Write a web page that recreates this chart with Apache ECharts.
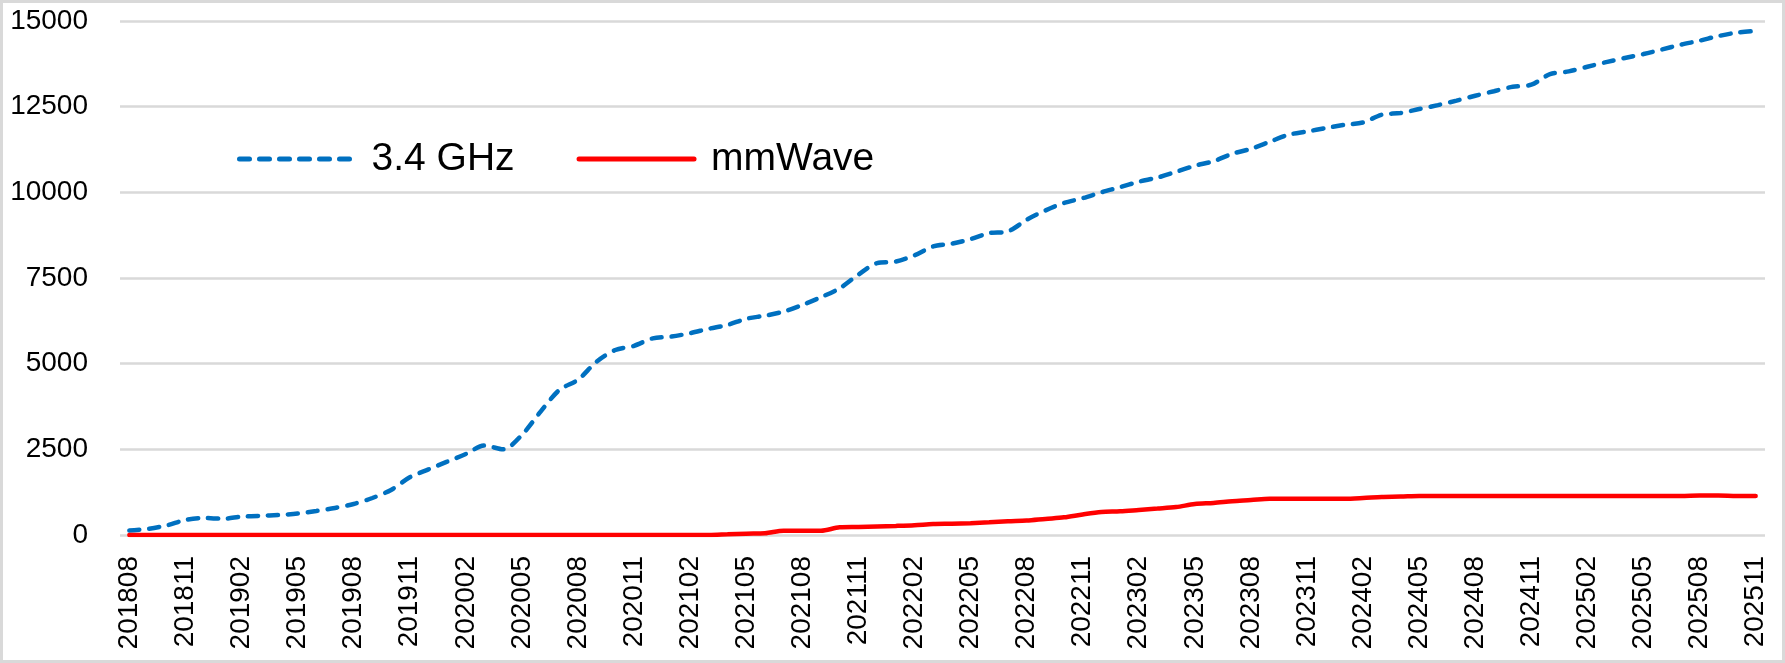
<!DOCTYPE html>
<html>
<head>
<meta charset="utf-8">
<script src="https://cdn.jsdelivr.net/npm/echarts@6/dist/echarts.min.js"></script>
<style>
  html, body { margin: 0; padding: 0; background: #fff; }
  #chart { width: 1785px; height: 663px; }
</style>
</head>
<body>
<div id="chart"></div>
<script>
const months = [
  "201808", "201809", "201810", "201811", "201812",
  "201901", "201902", "201903", "201904", "201905", "201906", "201907", "201908", "201909", "201910", "201911", "201912",
  "202001", "202002", "202003", "202004", "202005", "202006", "202007", "202008", "202009", "202010", "202011", "202012",
  "202101", "202102", "202103", "202104", "202105", "202106", "202107", "202108", "202109", "202110", "202111", "202112",
  "202201", "202202", "202203", "202204", "202205", "202206", "202207", "202208", "202209", "202210", "202211", "202212",
  "202301", "202302", "202303", "202304", "202305", "202306", "202307", "202308", "202309", "202310", "202311", "202312",
  "202401", "202402", "202403", "202404", "202405", "202406", "202407", "202408", "202409", "202410", "202411", "202412",
  "202501", "202502", "202503", "202504", "202505", "202506", "202507", "202508", "202509", "202510", "202511"
];

// 3.4 GHz
const band34 = [
  130, 180, 280, 440, 495, 475, 535, 560, 585, 625, 700, 790, 905, 1080, 1315, 1685, 1915, 2140, 2365, 2610,
  2500, 2920, 3600, 4230, 4530, 5060, 5400, 5520, 5740, 5790, 5890, 6020, 6130, 6310, 6400, 6520, 6715, 6940, 7200, 7600,
  7935, 7980, 8160, 8420, 8500, 8635, 8810, 8860, 9200, 9470, 9690, 9830, 10000, 10150, 10310, 10430, 10600, 10775, 10910, 11125,
  11270, 11475, 11680, 11775, 11875, 11970, 12040, 12265, 12315, 12430, 12545, 12675, 12820, 12950, 13080, 13140, 13450, 13530, 13665, 13800,
  13920, 14035, 14170, 14310, 14425, 14560, 14660, 14710
];

// mmWave
const mmWave = [
  0, 0, 0, 0, 0, 0, 0, 0, 0, 0, 0, 0, 0, 0, 0, 0, 0, 0, 0, 0,
  0, 0, 0, 0, 0, 0, 0, 0, 0, 0, 0, 0, 20, 40, 50, 125, 125, 125, 225, 235,
  250, 265, 285, 320, 330, 345, 370, 400, 420, 470, 515, 600, 670, 690, 730, 770, 815, 905, 935, 985,
  1020, 1060, 1060, 1060, 1060, 1060, 1080, 1110, 1120, 1140, 1140, 1140, 1140, 1140, 1140, 1140, 1140, 1140, 1140, 1140,
  1140, 1140, 1140, 1140, 1150, 1150, 1140, 1140
];

const seriesNames = ["3.4 GHz", "mmWave"];
const yTicks = { min: 0, max: 15000, step: 2500 };

const font = "'Liberation Sans', Arial, sans-serif";
const chart = echarts.init(document.getElementById("chart"));

chart.setOption({
  animation: false,
  backgroundColor: "#fff",
  graphic: [
    {
      type: "rect",
      shape: { x: 1.5, y: 1.5, width: 1782, height: 660 },
      style: { fill: "none", stroke: "#d9d9d9", lineWidth: 3 },
      z: 100,
    },
  ],
  grid: { left: 120, right: 20, top: 21, bottom: 128 },
  legend: {
    data: seriesNames,
    left: 232,
    top: 134,
    itemWidth: 115,
    itemHeight: 14,
    itemGap: 62,
    itemStyle: { opacity: 0 },
    lineStyle: { width: 5, cap: "round" },
    textStyle: {
      fontFamily: font,
      fontSize: 39,
      color: "#000",
      lineHeight: 40,
      padding: [0, 0, 0, 12],
    },
  },
  xAxis: {
    type: "category",
    data: months,
    boundaryGap: true,
    axisLine: { show: false },
    axisTick: { show: false },
    axisLabel: {
      interval: 2,
      rotate: 90,
      margin: 21,
      fontFamily: font,
      fontSize: 28,
      color: "#000",
    },
  },
  yAxis: {
    type: "value",
    min: yTicks.min,
    max: yTicks.max,
    interval: yTicks.step,
    axisLine: { show: false },
    axisTick: { show: false },
    axisLabel: {
      margin: 32,
      fontFamily: font,
      fontSize: 28,
      color: "#000",
      formatter: (v) => String(v),
    },
    splitLine: { lineStyle: { color: "#d9d9d9", width: 2.5 } },
  },
  series: [
    {
      name: seriesNames[0],
      type: "line",
      data: band34,
      symbol: "none",
      smooth: 0.3,
      lineStyle: { color: "#0070C0", width: 4.5, type: [10, 10], cap: "round" },
      itemStyle: { color: "#0070C0" },
    },
    {
      name: seriesNames[1],
      type: "line",
      data: mmWave,
      symbol: "none",
      smooth: 0.3,
      lineStyle: { color: "#FF0000", width: 4.5, cap: "round" },
      itemStyle: { color: "#FF0000" },
    },
  ],
});
</script>
</body>
</html>
